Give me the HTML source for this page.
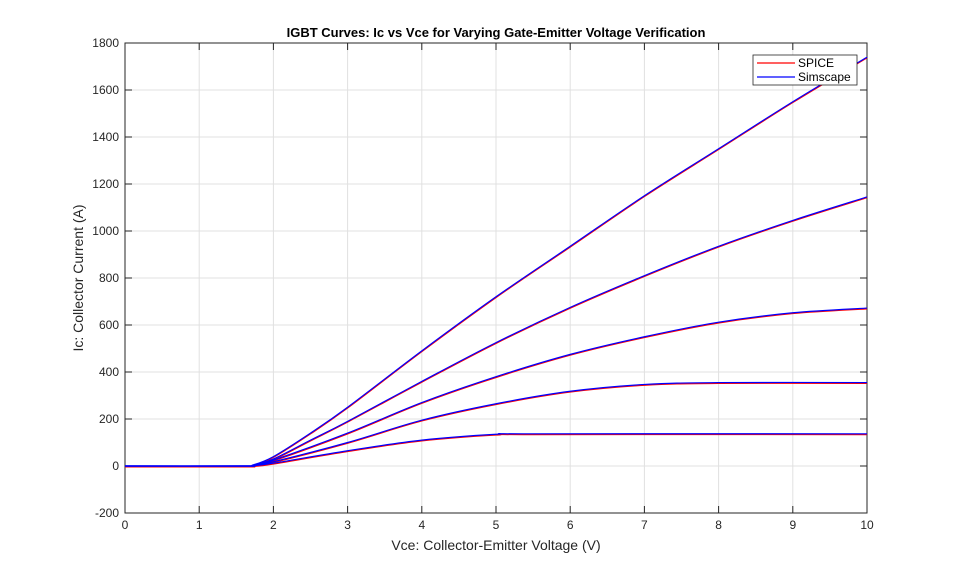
<!DOCTYPE html>
<html><head><meta charset="utf-8"><style>
body{margin:0;background:#fff;}
svg{display:block;font-family:"Liberation Sans",Arial,sans-serif;}
</style></head><body>
<svg id="s" width="959" height="577" xmlns="http://www.w3.org/2000/svg">
<rect width="959" height="577" fill="#fff"/>
<g id="grid"></g>
<rect x="125" y="43" width="742" height="470" fill="none" stroke="#262626" stroke-width="1"/>
<g id="lab" font-size="12" fill="#262626"></g>
<g id="curves"></g>
<text x="496" y="37" text-anchor="middle" font-size="13" font-weight="bold" fill="#000">IGBT Curves: Ic vs Vce for Varying Gate-Emitter Voltage Verification</text>
<text x="496" y="550" text-anchor="middle" font-size="14" fill="#262626">Vce: Collector-Emitter Voltage (V)</text>
<text transform="translate(83,278) rotate(-90)" text-anchor="middle" font-size="14" fill="#262626">Ic: Collector Current (A)</text>
<rect x="753" y="55" width="104" height="30" fill="#fff" stroke="#262626" stroke-width="0.8"/>
<line x1="757" y1="63" x2="795" y2="63" stroke="red" stroke-width="1.2"/>
<line x1="757" y1="77" x2="795" y2="77" stroke="blue" stroke-width="1.2"/>
<text x="798" y="67" font-size="12">SPICE</text>
<text x="798" y="81" font-size="12">Simscape</text>
</svg>
<script>
var NS="http://www.w3.org/2000/svg";
function X(v){return 125+74.2*v;}
function Y(v){return 43+(1800-v)/2000*470;}
function el(p,t,a,txt){var e=document.createElementNS(NS,t);for(var k in a)e.setAttribute(k,a[k]);if(txt!==undefined)e.textContent=txt;document.getElementById(p).appendChild(e);}
for(var i=0;i<=10;i++){var x=X(i);el("grid","line",{x1:x,y1:43,x2:x,y2:513,stroke:"#e0e0e0","stroke-width":1});
el("lab","text",{x:x,y:529,"text-anchor":"middle"},i);
el("lab","line",{x1:x,y1:513,x2:x,y2:506,stroke:"#262626"});el("lab","line",{x1:x,y1:43,x2:x,y2:50,stroke:"#262626"});}
for(var v=-200;v<=1800;v+=200){var y=Y(v);el("grid","line",{x1:125,y1:y,x2:867,y2:y,stroke:"#e0e0e0","stroke-width":1});
el("lab","text",{x:119,y:y+4,"text-anchor":"end"},v);
el("lab","line",{x1:125,y1:y,x2:132,y2:y,stroke:"#262626"});el("lab","line",{x1:867,y1:y,x2:860,y2:y,stroke:"#262626"});}
var C=[
[[0,0],[1.6,0],[1.72,4],[2,40],[2.5,140],[3,250],[4,490],[5,720],[6,935],[7,1150],[8,1350],[9,1550],[10,1740]],
[[0,0],[1.6,0],[1.72,3],[2,30],[2.5,110],[3,190],[4,360],[5,525],[6,675],[7,810],[8,935],[9,1045],[10,1145]],
[[0,0],[1.6,0],[1.72,2],[2,25],[3,140],[4,270],[5,380],[6,475],[7,550],[8,612],[9,652],[10,672]],
[[0,0],[1.6,0],[1.72,2],[2,18],[3,100],[4,195],[5,265],[6,318],[7,347],[8,355],[10,355]],
[[0,0],[1.6,0],[1.72,1],[2,12],[3,65],[4,110],[5,135],[5.5,137],[10,137]]];
function path(p,dy){var s="";for(var i=0;i<p.length;i++){var x0=X(p[i][0]),y0=Y(p[i][1])+dy;
if(i==0){s+="M"+x0+" "+y0;continue;}
var pm=p[Math.max(i-2,0)],pa=p[i-1],pb=p[i],pn=p[Math.min(i+1,p.length-1)];
var c1x=X(pa[0])+(X(pb[0])-X(pm[0]))/6,c1y=Y(pa[1])+(Y(pb[1])-Y(pm[1]))/6+dy;
var c2x=X(pb[0])-(X(pn[0])-X(pa[0]))/6,c2y=Y(pb[1])-(Y(pn[1])-Y(pa[1]))/6+dy;
s+=" C"+c1x+" "+c1y+" "+c2x+" "+c2y+" "+x0+" "+y0;}return s;}
C.forEach(function(p){el("curves","path",{d:path(p,0.8),fill:"none",stroke:"red","stroke-width":1.2});});
C.forEach(function(p){el("curves","path",{d:path(p,0),fill:"none",stroke:"blue","stroke-width":1.2});});
</script>
</body></html>
